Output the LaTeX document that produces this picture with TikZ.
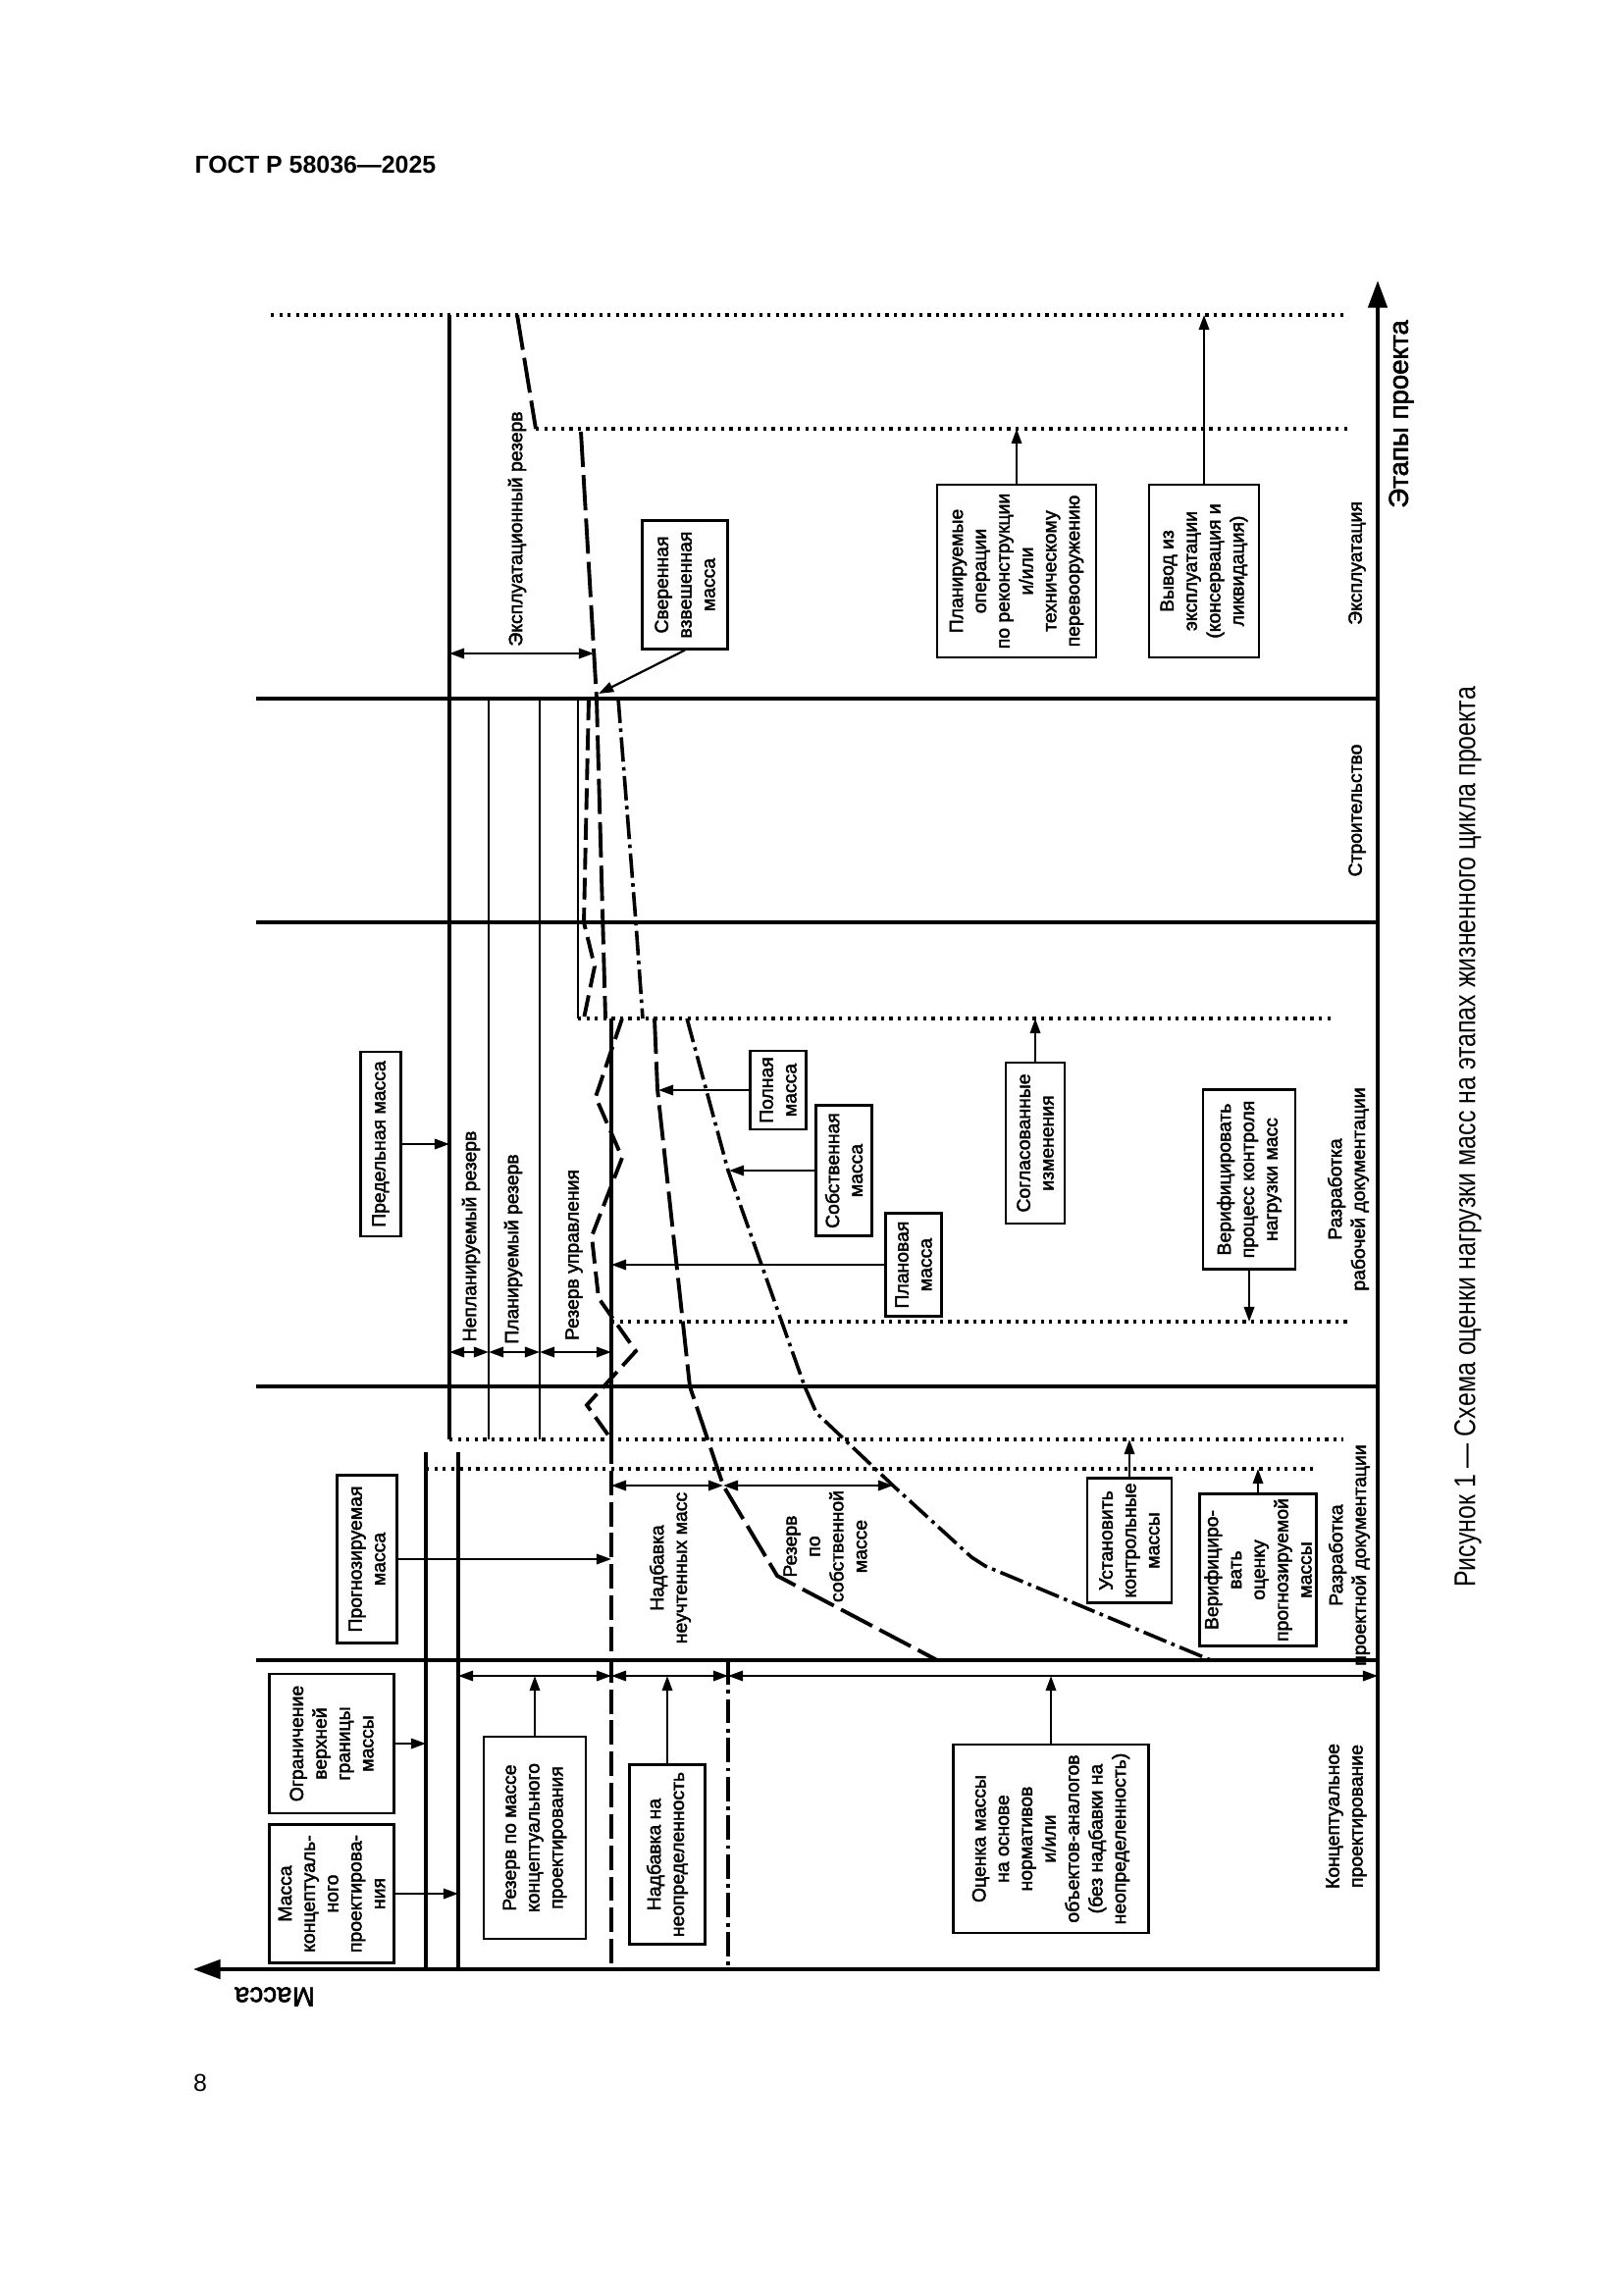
\documentclass[tikz,border=0pt]{standalone}
\usepackage{fontspec}
\setmainfont{Liberation Sans}
\newfontfamily\figfont[FakeBold=2.2]{Liberation Sans}
\newfontfamily\capfont[FakeStretch=0.82]{Liberation Sans}
\usetikzlibrary{arrows.meta}
\tikzset{block/.style={draw, line width=0.8pt, rotate=90, align=center, inner sep=1pt, font=\figfont\fontsize{7}{8.6}\selectfont}}
\tikzset{boxsize/.style 2 args={minimum height=#1*0.127mm, minimum width=#2*0.127mm}}
\tikzset{txt/.style={rotate=90, align=center, inner sep=1pt, font=\figfont\fontsize{7}{8.6}\selectfont}}
\tikzset{connect/.style={draw, line width=0.8pt}}
\tikzset{stage/.style={draw, line width=1.3pt}}
\tikzset{rule/.style={draw, line width=0.9pt}}
\tikzset{dots/.style={draw, line width=1.2pt, dash pattern=on 1.2pt off 1.9pt}}
\tikzset{longdash/.style={draw, line width=1.4pt, dash pattern=on 13pt off 3pt}}
\tikzset{wavedash/.style={draw, line width=1.4pt, dash pattern=on 8pt off 3pt}}
\tikzset{dashdot/.style={draw, line width=1.3pt, dash pattern=on 9pt off 2pt on 1.3pt off 2pt}}
\tikzset{ctrl/.style={draw, line width=1.5pt, dash pattern=on 9pt off 2.5pt}}

\begin{document}
\begin{tikzpicture}[x=0.127mm, y=-0.127mm, >={Triangle[length=5.5pt,width=3.8pt]}]
\useasboundingbox (0,0) rectangle (1654,2339);

% page header, number, caption
\node[anchor=base west, font=\bfseries\fontsize{9}{11}\selectfont, inner sep=0pt] (gost) at (198,177) {ГОСТ Р 58036—2025};
\node[font=\fontsize{9}{11}\selectfont] (pagenum) at (204,2123) {8};
\node[rotate=90, font=\capfont\fontsize{11}{13}\selectfont] (cap) at (1496,1159) {Рисунок 1 — Схема оценки нагрузки масс на этапах жизненного цикла проекта};

% axes
\coordinate (ax0) at (1404,2007);
\coordinate (axtop) at (1404,286);
\coordinate (axleft) at (197,2007);
\draw[stage, {Triangle[length=10pt,width=7pt]}-{Triangle[length=10pt,width=7pt]}] (axtop) -- (ax0) -- (axleft);
\node[rotate=90, font=\figfont\fontsize{10}{12}\selectfont] (stages) at (1428,422) {Этапы проекта};
\node[rotate=180, font=\figfont\fontsize{10}{12}\selectfont] (mass) at (280,2035) {Масса};

% stage borders
\draw[stage] (261,712) -- (1404,712);
\draw[stage] (261,940) -- (1404,940);
\draw[stage] (261,1413) -- (1404,1413);
\draw[stage] (261,1692) -- (1404,1692);

% reserve lines
\coordinate (v1) at (458,321);
\coordinate (ctl) at (623,1038);
\coordinate (v6) at (434,1480);
\coordinate (v7) at (467,1480);
\draw[stage] (v1) -- (458,1467);
\draw[rule] (498,712) -- (498,1467);
\draw[rule] (550,712) -- (550,1467);
\draw[rule] (589,712) -- (589,1038);
\draw[stage] (ctl) -- (623,1467);
\draw[ctrl] (623,1467) -- (623,2007);
\draw[stage] (v6) -- (434,2007);
\draw[stage] (v7) -- (467,2007);
\draw[dashdot] (742,1692) -- (742,2007);

% dotted levels
\coordinate (d1) at (276,321);
\coordinate (d2) at (546,437);
\coordinate (d3) at (589,1038);
\coordinate (d4) at (623,1347);
\coordinate (d5) at (458,1467);
\coordinate (d6) at (434,1497);
\draw[dots] (d1) -- (1371,321);
\draw[dots] (d2) -- (1375,437);
\draw[dots] (d3) -- (1359,1038);
\draw[dots] (d4) -- (1375,1347);
\draw[dots] (d5) -- (1369,1467);
\draw[dots] (d6) -- (1342,1497);

% mass curves
\draw[longdash] (527,321) -- (546,437);
\draw[longdash] (592,440) -- (608,712) -- (617,1038);
\draw[longdash] (667,1038) -- (670,1110) -- (703,1413) -- (737,1514) -- (792,1606) -- (955,1692);
\draw[wavedash] (600,712) -- (595,940) -- (606,985) -- (595,1038);
\draw[wavedash] (634,1038) -- (607,1118) -- (634,1180) -- (603,1260) -- (610,1323) -- (648,1377) -- (598,1432) -- (623,1467);
\draw[dashdot] (630,712) -- (648,940) -- (655,1038);
\draw[dashdot] (700,1038) -- (742,1193) -- (820,1413) -- (832,1440) -- (910,1514) -- (990,1587) -- (1004,1596) -- (1234,1692);

% stage names
\node[txt] (stexp) at (1383,574) {Эксплуатация};
\node[txt] (stbuild) at (1383,826) {Строительство};
\node[txt] (stwork) at (1374,1212) {Разработка\\рабочей документации};
\node[txt] (stproj) at (1375,1585) {Разработка\\проектной документации};
\node[txt] (stconc) at (1372,1851) {Концептуальное\\проектирование};

% free labels
\node[txt] (explres) at (527,539) {Эксплуатационный резерв};
\node[txt] (unplres) at (480,1260) {Непланируемый резерв};
\node[txt] (plres) at (523,1273) {Планируемый резерв};
\node[txt] (mgmtres) at (585,1279) {Резерв управления};
\node[txt] (unacc) at (683,1598) {Надбавка\\неучтенных масс};
\node[txt] (ownres) at (841,1576) {Резерв\\по\\собственной\\массе};

% boxes
\node[block, boxsize={87}{131}] (svr) at (698,596) {Сверенная\\взвешенная\\масса};
\node[block, boxsize={162}{176}] (planops) at (1036,582) {Планируемые\\операции\\по реконструкции\\и/или\\техническому\\перевооружению};
\node[block, boxsize={112}{176}] (vyvod) at (1227,582) {Вывод из\\эксплуатации\\(консервация и\\ликвидация)};
\node[block, boxsize={41}{188}] (pred) at (388,1166) {Предельная масса};
\node[block, boxsize={57}{80}] (full) at (793,1111) {Полная\\масса};
\node[block, boxsize={57}{133}] (own) at (860,1193) {Собственная\\масса};
\node[block, boxsize={57}{105}] (plan) at (931,1289) {Плановая\\масса};
\node[block, boxsize={60}{164}] (agreed) at (1055,1165) {Согласованные\\изменения};
\node[block, boxsize={94}{183}] (verproc) at (1273,1202) {Верифицировать\\процесс контроля\\нагрузки масс};
\node[block, boxsize={61}{171}] (forecast) at (374,1589) {Прогнозируемая\\масса};
\node[block, boxsize={86}{127}] (setctl) at (1151,1570) {Установить\\контрольные\\массы};
\node[block, boxsize={119}{155}] (verest) at (1282,1600) {Верифициро-\\вать\\оценку\\прогнозируемой\\массы};
\node[block, boxsize={127}{142}] (limit) at (338,1777) {Ограничение\\верхней\\границы\\массы};
\node[block, boxsize={127}{141}] (concmass) at (338,1930) {Масса\\концептуаль-\\ного\\проектирова-\\ния};
\node[block, boxsize={104}{206}] (concres) at (545,1873) {Резерв по массе\\концептуального\\проектирования};
\node[block, boxsize={77}{183}] (uncert) at (680,1890) {Надбавка на\\неопределенность};
\node[block, boxsize={199}{192}] (estim) at (1071,1874) {Оценка массы\\на основе\\нормативов\\и/или\\объектов-аналогов\\(без надбавки на\\неопределенность)};

% arrow ends
\coordinate (exl) at (458,666);
\coordinate (exr) at (605,666);
\coordinate (svrtip) at (610,707);
\coordinate (fulltip) at (671,1111);
\coordinate (owntip) at (743,1193);
\coordinate (r1) at (458,1378);
\coordinate (r2) at (498,1378);
\coordinate (r3) at (550,1378);
\coordinate (r4) at (623,1378);
\coordinate (u1) at (623,1514);
\coordinate (u2) at (737,1514);
\coordinate (u3) at (910,1514);
\coordinate (k1) at (467,1708);
\coordinate (k2) at (623,1708);
\coordinate (k3) at (742,1708);
\coordinate (k4) at (1404,1708);

% connectors
\path[connect,<->] (exl) -- (exr);
\path[connect,->] (svr.west) -- (svrtip);
\path[connect,->] (planops.east) -- (planops.east |- d2);
\path[connect,->] (vyvod.east) -- (vyvod.east |- d1);
\path[connect,->] (pred.south) -- (pred.south -| v1);
\path[connect,<->] (r1) -- (r2);
\path[connect,<->] (r2) -- (r3);
\path[connect,<->] (r3) -- (r4);
\path[connect,->] (full.north) -- (fulltip);
\path[connect,->] (own.north) -- (owntip);
\path[connect,->] (plan.north) -- (plan.north -| ctl);
\path[connect,->] (agreed.east) -- (agreed.east |- d3);
\path[connect,->] (verproc.west) -- (verproc.west |- d4);
\path[connect,->] (forecast.south) -- (forecast.south -| ctl);
\path[connect,->] (setctl.east) -- (setctl.east |- d5);
\path[connect,->] (verest.east) -- (verest.east |- d6);
\path[connect,<->] (u1) -- (u2);
\path[connect,<->] (u2) -- (u3);
\path[connect,->] (limit.south) -- (limit.south -| v6);
\path[connect,->] (concmass.south) -- (concmass.south -| v7);
\path[connect,<->] (k1) -- (k2);
\path[connect,<->] (k2) -- (k3);
\path[connect,<->] (k3) -- (k4);
\path[connect,->] (concres.east) -- (concres.east |- k1);
\path[connect,->] (uncert.east) -- (uncert.east |- k1);
\path[connect,->] (estim.east) -- (estim.east |- k1);

\end{tikzpicture}
\end{document}
